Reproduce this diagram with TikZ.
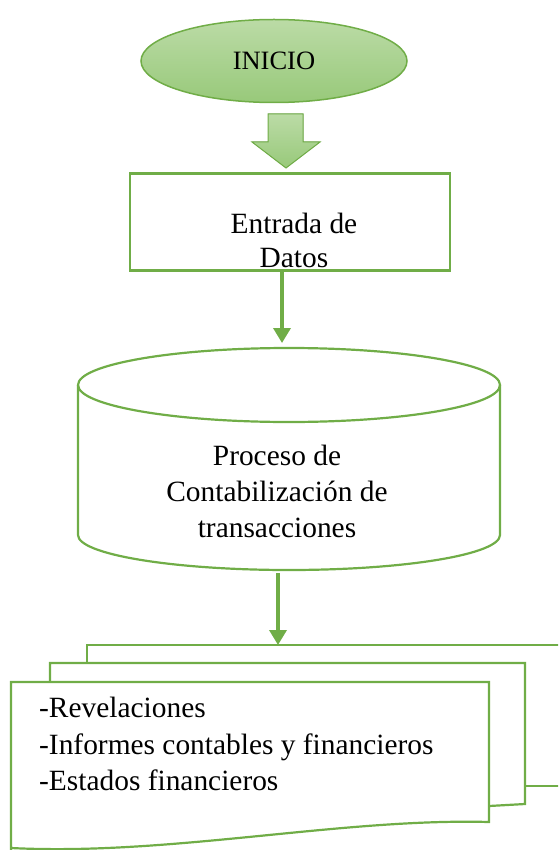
\documentclass[tikz,border=0pt]{standalone}
\usepackage{fontspec}
\setmainfont{Liberation Serif}
\usetikzlibrary{shapes.geometric}
\usetikzlibrary{arrows.meta}
\definecolor{verde}{HTML}{70AD47}
\definecolor{verdeclaro}{HTML}{BBDBA6}
\definecolor{verdemedio}{HTML}{98C97A}

\begin{document}
\begin{tikzpicture}[x=1pt, y=-1pt, line join=miter,
  linea/.style={draw=verde, line width=2.2pt},
  hoja/.style={draw=verde, line width=2.2pt, fill=white},
  flecha/.style={draw=verde, line width=3.5pt, -{Triangle[length=15pt, width=17pt]}},
  texto/.style={font=\fontsize{29.4}{36.5}\selectfont, align=center, inner sep=0pt}]
\useasboundingbox (0,0) rectangle (558,850);
\clip (0,0) rectangle (558,850);

% inicio
\node [ellipse, draw=verde, line width=1.5pt, top color=verdeclaro, bottom color=verdemedio,
  minimum width=266pt, minimum height=83pt, font=\fontsize{26.5}{30}\selectfont] (inicio) at (274,61) {INICIO};
\filldraw [draw=verde, line width=1pt, top color=verdeclaro, bottom color=verdemedio]
  (268,114) -- (303,114) -- (303,142) -- (320,142) -- (286,168) -- (252,142) -- (268,142) -- cycle;

% entrada de datos
\node [linea, minimum width=320pt, minimum height=97pt] (datos) at (290,222) {};
\node [texto, font=\fontsize{29.4}{34}\selectfont] (datostxt) at (294,240) {Entrada de\\Datos};

% cilindro
\draw [linea] (289,385) ellipse [x radius=211pt, y radius=37pt];
\draw [linea] (78,385) -- (78,535) arc [start angle=180, end angle=360, x radius=211pt, y radius=35pt] -- (500,385);
\node [texto, font=\fontsize{29.4}{36}\selectfont] (proceso) at (277,491) {Proceso de\\Contabilización de\\transacciones};
\coordinate (cyltop) at (282,343);
\coordinate (cylbot) at (278,573);

% documentos
\draw [hoja] (87,663) -- (87,645) -- (570,645) -- (570,786) -- (525,786);
\draw [hoja] (50,682) -- (50,663) -- (525,663) -- (525,804) -- (489,806);
\draw [hoja] (11,850) -- (11,682) -- (489,682) -- (489,822) .. controls (340,818) and (170,856) .. (11,848) -- cycle;
\coordinate (hojatop) at (278,645);
\node [texto, align=left, anchor=west] (salidas) at (39,744) {-Revelaciones\\-Informes contables y financieros\\-Estados financieros};

\draw[flecha] (datos.south -| cyltop) -- (cyltop);
\draw[flecha] (cylbot) -- (hojatop);
\end{tikzpicture}
\end{document}
